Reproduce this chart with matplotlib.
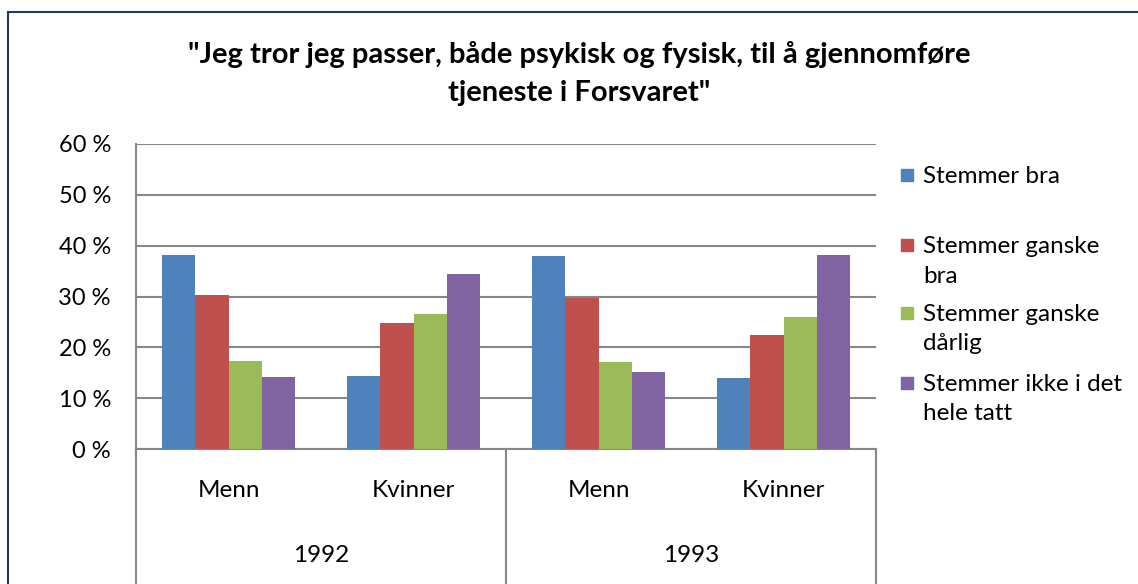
import numpy as np
import matplotlib
matplotlib.use('Agg')
import matplotlib.pyplot as plt
from matplotlib.patches import Rectangle
from matplotlib.lines import Line2D

plt.rcParams['font.family'] = ['Lato', 'DejaVu Sans']

# data
years = ['1992', '1993']
groups = ['Menn', 'Kvinner', 'Menn', 'Kvinner']
series = ['Stemmer bra', 'Stemmer ganske\nbra', 'Stemmer ganske\ndårlig', 'Stemmer ikke i det\nhele tatt']
stemmer_bra = [38.2, 14.3, 38.0, 13.9]
ganske_bra = [30.3, 24.7, 29.8, 22.4]
ganske_darlig = [17.4, 26.6, 17.2, 25.9]
ikke_i_det_hele = [14.2, 34.4, 15.1, 38.1]
colors = ['#4F81BD', '#C0504D', '#9BBB59', '#8064A2']

values = [stemmer_bra, ganske_bra, ganske_darlig, ikke_i_det_hele]

W, H = 1138, 584
fig = plt.figure(figsize=(W / 100, H / 100), dpi=100)
ax = fig.add_axes([136 / W, 1 - 449 / H, (876 - 136) / W, (449 - 144) / H])

x = np.arange(len(groups))
bw = 0.181
for i, (vals, c) in enumerate(zip(values, colors)):
    ax.bar(x + (i - 1.5) * bw, vals, width=bw, color=c, zorder=3)

grid_c = '#878787'
fs = 17.5
ax.set_xlim(-0.5, len(groups) - 0.5)
ax.set_ylim(0, 60)
ax.set_yticks(range(0, 61, 10))
ax.set_yticklabels([f'{v} %' for v in range(0, 61, 10)], fontsize=17)
ax.tick_params(axis='y', length=0, pad=18)
ax.set_xticks([])
ax.yaxis.grid(True, color=grid_c, linewidth=1.5, zorder=0)
for s in ['left', 'bottom']:
    ax.spines[s].set_color(grid_c)
    ax.spines[s].set_linewidth(1.5)
ax.spines['top'].set_visible(False)
ax.spines['right'].set_visible(False)

# category labels and year separators below the axis
for i, g in enumerate(groups):
    ax.text(i, -8.2, g, ha='center', va='center', fontsize=fs, clip_on=False)
for j, y in enumerate(years):
    ax.text(2 * j + 0.5, -21, y, ha='center', va='center', fontsize=fs, clip_on=False)
for xb in [-0.5, 1.5, 3.5]:
    ax.add_line(Line2D([xb, xb], [0, -27], color=grid_c, linewidth=1.5, clip_on=False))

fig.text(579 / W, 1 - 54 / H, '"Jeg tror jeg passer, både psykisk og fysisk, til å gjennomføre',
         ha='center', va='center', fontsize=21, fontweight='bold')
fig.text(579 / W, 1 - 93 / H, 'tjeneste i Forsvaret"',
         ha='center', va='center', fontsize=21, fontweight='bold')

# legend
leg_y = [175, 245, 313, 383]
for name, c, ly in zip(series, colors, leg_y):
    fig.patches.append(Rectangle((901 / W, 1 - (ly + 6) / H), 12 / W, 12 / H,
                                 transform=fig.transFigure, color=c))
    fig.text(923 / W, 1 - (ly - 9) / H, name, ha='left', va='top', fontsize=fs,
             linespacing=1.5)

# chart border
fig.patches.append(Rectangle((8 / W, -0.1), 1.2, 1 - 12 / H + 0.1, transform=fig.transFigure,
                             fill=False, edgecolor='#243A5A', linewidth=1.5))

fig.savefig('out.png', dpi=100)
